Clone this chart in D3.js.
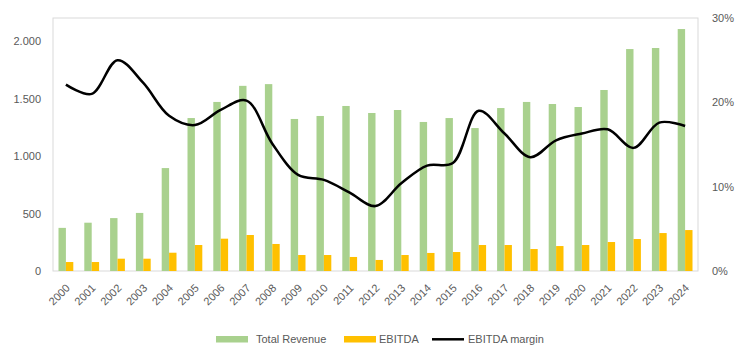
<!DOCTYPE html>
<html>
<head>
<meta charset="utf-8">
<script src="https://cdn.jsdelivr.net/npm/d3@7"></script>
<style>
  body { margin: 0; background: #fff; }
  svg { display: block; font-family: "Liberation Sans", Arial, sans-serif; }
  .tick text { fill: #595959; font-size: 11px; }
</style>
</head>
<body>
<div id="chart-area"></div>
<script>
// Data
const years = d3.range(2000, 2025).map(String);
const revenue = [375, 420, 460, 505, 895, 1330, 1470, 1610, 1625, 1322, 1348, 1435, 1374, 1400, 1296,
                 1330, 1243, 1417, 1470, 1452, 1426, 1574, 1930, 1939, 2104];
const ebitda = [78, 78, 107, 107, 159, 226, 281, 313, 235, 139, 139, 122, 96, 139, 157,
                165, 226, 226, 191, 217, 226, 252, 278, 330, 356];
const margin_pct = [22.1, 21.0, 25.0, 22.3, 18.4, 17.3, 19.1, 20.2, 15.1, 11.4, 10.8, 9.3, 7.7, 10.4, 12.5,
                    12.8, 19.0, 16.3, 13.5, 15.5, 16.3, 16.8, 14.6, 17.6, 17.2];
const leftTicks = [0, 500, 1000, 1500, 2000];
const rightTicks = [0, 10, 20, 30];

// Layout
const W = 755, H = 353;
const plot = { left: 53, right: 698, top: 18, bottom: 271 };

const svg = d3.select('#chart-area')
  .append('svg')
    .attr('width', W)
    .attr('height', H);

// Scales
const x = d3.scaleBand()
  .domain(years)
  .range([plot.left, plot.right]);

const yL = d3.scaleLinear().domain([0, 2200]).range([plot.bottom, plot.top]);
const yR = d3.scaleLinear().domain([0, 30]).range([plot.bottom, plot.top]);

const barW = 7.4;

// Plot frame
svg.append('rect')
  .attr('x', plot.left)
  .attr('y', plot.top)
  .attr('width', plot.right - plot.left)
  .attr('height', plot.bottom - plot.top)
  .attr('fill', 'none')
  .attr('stroke', '#d9d9d9')
  .attr('stroke-width', 1);

// Bars
svg.append('g').selectAll('rect')
  .data(years)
  .enter().append('rect')
    .attr('x', (d) => x(d) + x.bandwidth() / 2 - barW)
    .attr('width', barW)
    .attr('y', (d, i) => yL(revenue[i]))
    .attr('height', (d, i) => plot.bottom - yL(revenue[i]))
    .attr('fill', '#a9d18e');

svg.append('g').selectAll('rect')
  .data(years)
  .enter().append('rect')
    .attr('x', (d) => x(d) + x.bandwidth() / 2)
    .attr('width', barW)
    .attr('y', (d, i) => yL(ebitda[i]))
    .attr('height', (d, i) => plot.bottom - yL(ebitda[i]))
    .attr('fill', '#ffc000');

// Margin line
const line = d3.line()
  .x((d, i) => x(years[i]) + x.bandwidth() / 2)
  .y((d) => yR(d))
  .curve(d3.curveCatmullRom.alpha(0.5));

svg.append('path')
  .datum(margin_pct)
  .attr('d', line)
  .attr('fill', 'none')
  .attr('stroke', '#000')
  .attr('stroke-width', 2.5);

// Axes
const leftAxis = svg.append('g')
  .attr('transform', 'translate(' + (plot.left - 9) + ',0)')
  .call(d3.axisLeft(yL).tickValues(leftTicks).tickSize(0)
    .tickFormat((d) => d3.format(',')(d).replace(/,/g, '.')));
leftAxis.select('.domain').remove();

const rightAxis = svg.append('g')
  .attr('transform', 'translate(' + (plot.right + 11) + ',0)')
  .call(d3.axisRight(yR).tickValues(rightTicks).tickSize(0).tickFormat((d) => d + '%'));
rightAxis.select('.domain').remove();

const xAxis = svg.append('g')
  .attr('transform', 'translate(0,' + plot.bottom + ')')
  .call(d3.axisBottom(x).tickSize(0));
xAxis.select('.domain').remove();
xAxis.selectAll('text')
  .attr('text-anchor', 'end')
  .attr('x', 0)
  .attr('y', 0)
  .attr('dy', '0.35em')
  .attr('transform', 'translate(2,15) rotate(-45)');

// Legend
const legend = svg.append('g').attr('font-size', '11px').attr('fill', '#595959');

legend.append('rect').attr('x', 216).attr('y', 336).attr('width', 32).attr('height', 6.5).attr('fill', '#a9d18e');
legend.append('text').attr('x', 256).attr('y', 343).text('Total Revenue');

legend.append('rect').attr('x', 344).attr('y', 336).attr('width', 32).attr('height', 6.5).attr('fill', '#ffc000');
legend.append('text').attr('x', 379).attr('y', 343).text('EBITDA');

legend.append('line').attr('x1', 432).attr('x2', 464).attr('y1', 339.3).attr('y2', 339.3)
  .attr('stroke', '#000').attr('stroke-width', 2.5);
legend.append('text').attr('x', 468).attr('y', 343).text('EBITDA margin');
</script>
</body>
</html>
